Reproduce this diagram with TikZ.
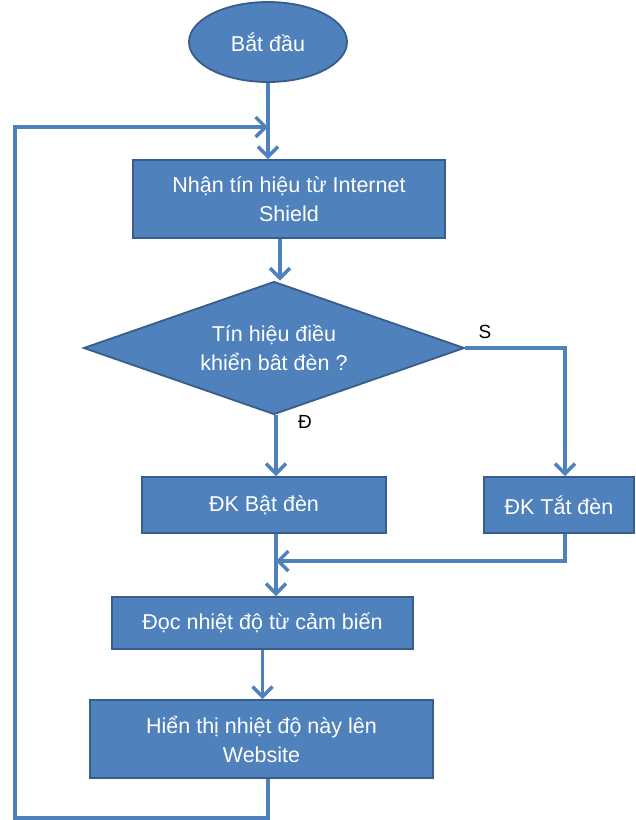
\documentclass[tikz,border=0pt]{standalone}
\usepackage{fontspec}
\setmainfont{Liberation Sans}
\usetikzlibrary{shapes.geometric,arrows.meta}
\definecolor{boxfill}{HTML}{4F81BD}
\definecolor{boxedge}{HTML}{385D8A}
\definecolor{linecol}{HTML}{4F81BD}
\begin{document}
\begin{tikzpicture}[x=1pt,y=-1pt,
  base/.style={fill=boxfill,draw=boxedge,line width=1.8pt,text=white,
    font=\fontsize{21.5}{29}\selectfont,align=center,inner sep=0pt},
  procbox/.style={base,rectangle},
  startbox/.style={base,ellipse},
  decbox/.style={base,diamond},
  conn/.style={draw=linecol,line width=3.5pt},
  arr/.style={conn,-{Straight Barb[length=10pt,width=20pt,line width=3.5pt]}},
  lbl/.style={font=\fontsize{19}{22}\selectfont,text=black,inner sep=0pt}]
\useasboundingbox (0,0) rectangle (636,820);

\node[startbox,minimum width=158pt,minimum height=80pt] (start) at (268,42) {Bắt đầu};
\node[procbox,minimum width=312pt,minimum height=78pt] (b1) at (289,199) {Nhận tín hiệu từ Internet\\Shield};
\node[decbox,minimum width=381pt,minimum height=133pt,aspect=2.86] (dia) at (274,348) {Tín hiệu điều\\khiển bât đèn ?};
\node[procbox,minimum width=244pt,minimum height=56pt] (bat) at (264,505) {ĐK Bật đèn};
\node[procbox,minimum width=150pt,minimum height=56pt] (tat) at (559,505) {ĐK Tắt đèn};
\node[procbox,minimum width=301pt,minimum height=52pt] (doc) at (262.5,623) {Đọc nhiệt độ từ cảm biến};
\node[procbox,minimum width=343pt,minimum height=78pt] (hien) at (261.5,739) {Hiển thị nhiệt độ này lên\\Website};

\coordinate (join) at (268,127);
\coordinate (colA) at (280,0);
\coordinate (colB) at (276,0);
\coordinate (sCorner) at (565,348);
\coordinate (merge) at (276,561);
\coordinate (loopA) at (268,818);
\coordinate (loopB) at (15,818);
\coordinate (loopC) at (15,127);

\draw[arr] (start.south) -- (start.south |- b1.north);
\draw[arr] (b1.south -| colA) -- (colA |- dia.north);
\draw[arr] (dia.south -| colB) -- (colB |- bat.north);
\draw[arr] (dia.east) -- (sCorner) -- (sCorner |- tat.north);
\draw[arr] (bat.south -| colB) -- (colB |- doc.north);
\draw[arr] (tat.south -| sCorner) -- (sCorner |- merge) -- (merge);
\draw[arr] (doc.south) -- (doc.south |- hien.north);
\draw[arr] (hien.south -| loopA) -- (loopA) -- (loopB) -- (loopC) -- (join);

\node[lbl] (sl) at (485,332) {S};
\node[lbl] (dl) at (305,422) {Đ};
\end{tikzpicture}
\end{document}
